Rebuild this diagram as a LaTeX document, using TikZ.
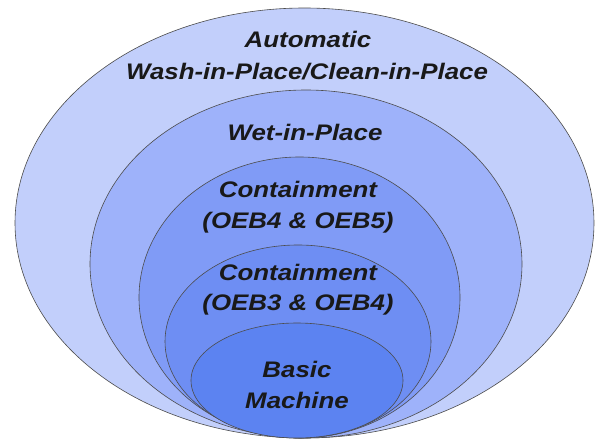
\documentclass[tikz,border=0pt]{standalone}
\usepackage{fontspec}
\setmainfont{Liberation Sans}
\newfontfamily\lblfont[FakeStretch=1.15]{Liberation Sans}
\usepackage{tikz}
\definecolor{ringA}{RGB}{194,207,251}
\definecolor{ringB}{RGB}{158,178,250}
\definecolor{ringC}{RGB}{128,155,246}
\definecolor{ringD}{RGB}{110,142,243}
\definecolor{ringE}{RGB}{92,131,241}
\tikzstyle{ring} = [draw=black!70, line width=0.6pt]
\tikzstyle{lbl} = [anchor=base, inner sep=0pt, font=\lblfont\fontsize{22.5}{31}\selectfont\bfseries\itshape, text=black!90]

\begin{document}
\begin{tikzpicture}[x=1pt,y=-1pt]
	  \useasboundingbox (0,0) rectangle (598,439);
	  \fill [white] (0,0) rectangle (598,439);

	  \draw [ring, fill=ringA] (304.5,223) ellipse [x radius=289.5pt, y radius=215pt];
	  \draw [ring, fill=ringB] (306,264) ellipse [x radius=216pt, y radius=174pt];
	  \draw [ring, fill=ringC] (299.5,297.5) ellipse [x radius=160.5pt, y radius=140.5pt];
	  \draw [ring, fill=ringD] (298,341.5) ellipse [x radius=133pt, y radius=96.5pt];
	  \draw [ring, fill=ringE] (297,380.5) ellipse [x radius=106pt, y radius=57.5pt];

	  \node (auto) at (308,47) [lbl] {Automatic};
	  \node (wash) at (307,79) [lbl] {Wash-in-Place/Clean-in-Place};
	  \node (wet) at (305,140) [lbl] {Wet-in-Place};
	  \node (cfive) at (298,197) [lbl] {Containment};
	  \node (oebfive) at (298,228) [lbl] {(OEB4 \& OEB5)};
	  \node (cfour) at (298,280) [lbl] {Containment};
	  \node (oebfour) at (298,310) [lbl] {(OEB3 \& OEB4)};
	  \node (basic) at (297,377) [lbl] {Basic};
	  \node (machine) at (297,408) [lbl] {Machine};
	\end{tikzpicture}
\end{document}
